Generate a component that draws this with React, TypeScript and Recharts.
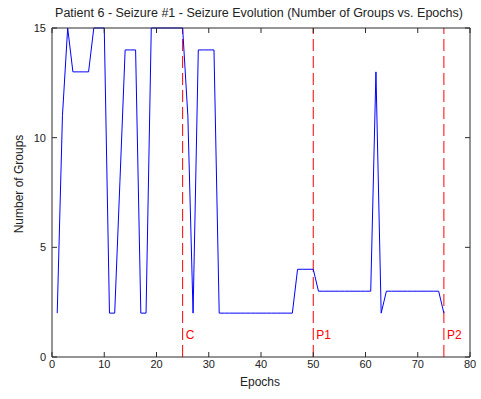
import { LineChart, Line, XAxis, YAxis, ReferenceLine } from "recharts";

const epochs = [
  1, 2, 3, 4, 5, 6, 7, 8, 9, 10, 11, 12, 13, 14, 15, 16, 17, 18, 19, 20, 21, 22, 23, 24, 25,
  26, 27, 28, 29, 30, 31, 32, 33, 34, 35, 36, 37, 38, 39, 40, 41, 42, 43, 44, 45, 46, 47, 48, 49, 50,
  51, 52, 53, 54, 55, 56, 57, 58, 59, 60, 61, 62, 63, 64, 65, 66, 67, 68, 69, 70, 71, 72, 73, 74, 75,
];
const groups = [
  2, 11, 15, 13, 13, 13, 13, 15, 15, 15, 2, 2, 8, 14, 14, 14, 2, 2, 15, 15, 15, 15, 15, 15, 15,
  11, 2, 14, 14, 14, 14, 2, 2, 2, 2, 2, 2, 2, 2, 2, 2, 2, 2, 2, 2, 2, 4, 4, 4, 4,
  3, 3, 3, 3, 3, 3, 3, 3, 3, 3, 3, 13, 2, 3, 3, 3, 3, 3, 3, 3, 3, 3, 3, 3, 2,
];
const markers = [
  { x: 25, label: "C" },
  { x: 50, label: "P1" },
  { x: 75, label: "P2" },
];
const xTicks = [0, 10, 20, 30, 40, 50, 60, 70, 80];
const yTicks = [0, 5, 10, 15];

const data = epochs.map((e, i) => ({ epoch: e, groups: groups[i] }));

const font = "'Liberation Sans', Arial, sans-serif";
const axisColor = "#2b2b2b";
const tickStyle = { fill: "#222", fontSize: 11, fontFamily: font };

export default function App() {
  return (
    <div style={{ position: "absolute", left: 0, top: 0, width: 481, height: 399, background: "#fff", fontFamily: font }}>
      <div style={{ position: "absolute", left: 0, width: 518, top: 6, textAlign: "center", fontSize: 12.5, color: "#222", whiteSpace: "nowrap" }}>
        Patient 6 - Seizure #1 - Seizure Evolution (Number of Groups vs. Epochs)
      </div>
      <div style={{ position: "absolute", left: 0, width: 520, top: 375, textAlign: "center", fontSize: 12, color: "#222" }}>
        Epochs
      </div>
      <div style={{ position: "absolute", left: 19, top: 184, width: 0, height: 0 }}>
        <div style={{ position: "absolute", transform: "translate(-50%, -50%) rotate(-90deg)", fontSize: 12, color: "#222", whiteSpace: "nowrap" }}>
          Number of Groups
        </div>
      </div>

      <LineChart width={481} height={399} data={data} margin={{ top: 27, right: 10, left: 0, bottom: 0 }}>
        <XAxis
          dataKey="epoch"
          type="number"
          domain={[0, 80]}
          ticks={xTicks}
          height={42}
          tickSize={-5}
          tickMargin={8}
          interval={0}
          stroke={axisColor}
          tick={tickStyle}
        />
        <XAxis
          xAxisId="top"
          orientation="top"
          dataKey="epoch"
          type="number"
          domain={[0, 80]}
          ticks={xTicks}
          height={1}
          tickSize={-5}
          interval={0}
          stroke={axisColor}
          tickFormatter={() => ""}
        />
        <YAxis
          type="number"
          domain={[0, 15]}
          ticks={yTicks}
          width={52}
          tickSize={-5}
          tickMargin={11}
          interval={0}
          stroke={axisColor}
          tick={tickStyle}
        />
        <YAxis
          yAxisId="r"
          orientation="right"
          type="number"
          domain={[0, 15]}
          ticks={yTicks}
          width={1}
          tickSize={-5}
          interval={0}
          stroke={axisColor}
          tickFormatter={() => ""}
        />
        {markers.map((m) => (
          <ReferenceLine
            key={m.label}
            x={m.x}
            stroke="#ff0000"
            strokeDasharray="12 5"
            label={(props: any) => {
              const vb = props.viewBox || {};
              return (
                <text x={vb.x + 3} y={vb.y + vb.height - 18} fill="#ff0000" fontSize={12} fontFamily={font}>
                  {m.label}
                </text>
              );
            }}
          />
        ))}
        <Line
          xAxisId="top"
          yAxisId="r"
          dataKey="groups"
          stroke="none"
          dot={false}
          activeDot={false}
          isAnimationActive={false}
        />
        <Line
          dataKey="groups"
          stroke="#0000ff"
          strokeWidth={1}
          dot={false}
          isAnimationActive={false}
          type="linear"
        />
      </LineChart>
    </div>
  );
}
